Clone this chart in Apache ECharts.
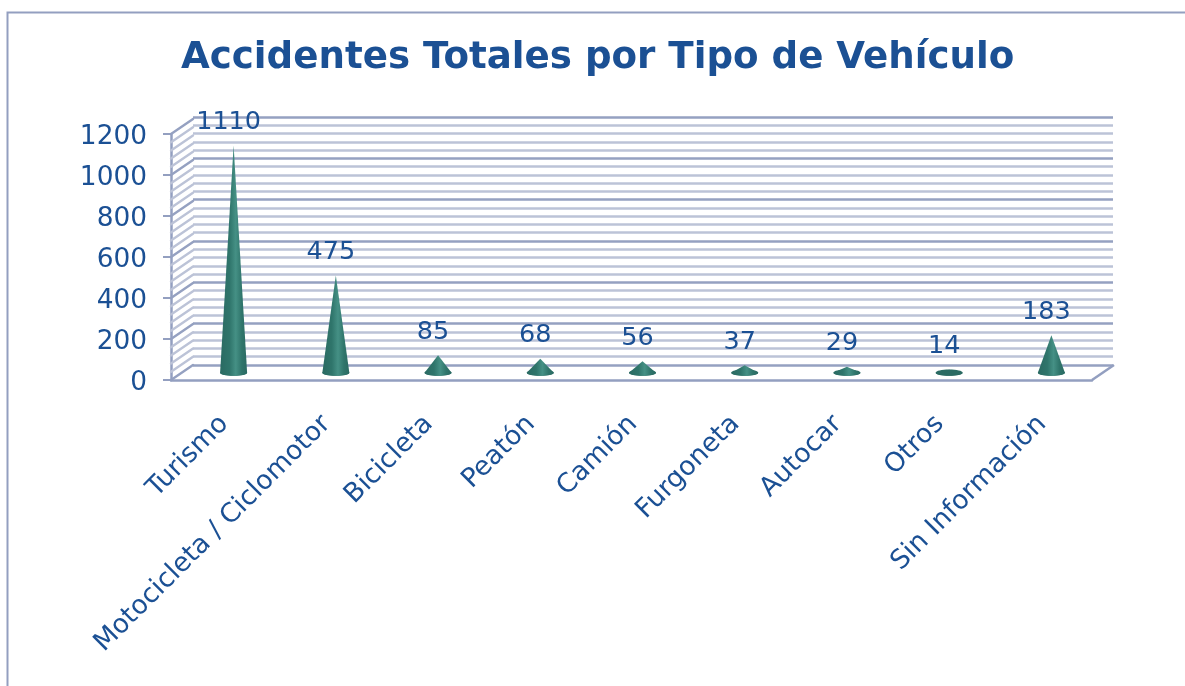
<!DOCTYPE html>
<html><head><meta charset="utf-8">
<style>html,body{margin:0;padding:0;background:#fff}#c{width:1185px;height:686px}</style>
<script src="https://cdn.jsdelivr.net/npm/echarts@6/dist/echarts.min.js"></script>
</head><body><div id="c"></div>
<script>
const categories = ['Turismo','Motocicleta / Ciclomotor','Bicicleta','Peatón','Camión','Furgoneta','Autocar','Otros','Sin Información'];
const accidentes = [1110,475,85,68,56,37,29,14,183];
const wallTicks = [0,40,80,120,160,200,240,280,320,360,400,440,480,520,560,600,640,680,720,760,800,840,880,920,960,1000,1040,1080,1120,1160,1200];
const titleText = 'Accidentes Totales por Tipo de Vehículo';

const BLUE = '#1b5094', MAJOR = '#95a1c1', MINOR = '#bcc3d7', EDGE = '#939fc0';
const FONT = '"DejaVu Sans", Verdana, sans-serif';
const DX = 22, DY = -15;
const W = 1185, H = 686;

const chart = echarts.init(document.getElementById('c'), null, {renderer:'canvas'});
chart.setOption({
  animation:false,
  backgroundColor:'#fff',
  title:{text:titleText,left:176,top:35,itemGap:0,
    textStyle:{fontFamily:FONT,fontWeight:'bold',fontSize:37.2,color:BLUE}},
  graphic:[{type:'rect',silent:true,shape:{x:7.5,y:12.5,width:1400,height:900},
    style:{fill:'none',stroke:EDGE,lineWidth:2}}],
  grid:[
    {left:171,right:W-1092,top:134,bottom:H-380},
    {left:193,right:W-1113,top:117,bottom:H-365},
    {left:182.5,right:W-1102.5,top:127.2,bottom:H-372.7},
    {left:171,right:W-1092,top:137.5,bottom:H-383.5}
  ],
  xAxis:[
    {gridIndex:0,type:'category',data:categories,axisTick:{show:false},axisLabel:{show:false},
      axisLine:{show:true,lineStyle:{color:EDGE,width:2.5}},z:3},
    {gridIndex:1,type:'category',data:categories,axisTick:{show:false},axisLabel:{show:false},axisLine:{show:false}},
    {gridIndex:2,type:'category',data:categories,axisTick:{show:false},axisLine:{show:false},
      axisLabel:{show:true,interval:0,rotate:45,margin:38,padding:[0,13,0,0],fontFamily:FONT,fontSize:26.5,color:BLUE}},
    {gridIndex:3,type:'category',data:categories,show:false}
  ],
  yAxis:[
    {gridIndex:0,type:'value',min:0,max:1200,interval:200,splitLine:{show:false},axisLabel:{show:false},
      axisLine:{show:true,lineStyle:{color:EDGE,width:2.5}},
      axisTick:{show:true,length:8,lineStyle:{color:EDGE,width:2}}},
    {gridIndex:1,type:'value',min:0,max:1200,interval:200,axisLabel:{show:false},axisLine:{show:false},axisTick:{show:false},
      splitLine:{show:true,lineStyle:{color:MAJOR,width:2.5}},
      minorTick:{show:false,splitNumber:5},
      minorSplitLine:{show:true,lineStyle:{color:MINOR,width:2.5}}},
    {gridIndex:2,type:'value',min:0,max:1200,interval:200,show:false},
    {gridIndex:3,type:'value',min:0,max:1200,interval:200,splitLine:{show:false},axisLine:{show:false},axisTick:{show:false},
      axisLabel:{margin:24,fontFamily:FONT,fontSize:26.4,color:BLUE,formatter:v=>String(v)}}
  ],
  series:[
    {type:'custom',name:'pared',xAxisIndex:0,yAxisIndex:0,clip:false,silent:true,z:1,
      data:wallTicks.map(v=>[0,v]),
      renderItem(params,api){
        const v=api.value(1);
        const p=api.coord([0,v]);
        const x=params.coordSys.x, y=p[1];
        return {type:'line',shape:{x1:x,y1:y,x2:x+DX,y2:y+DY},
          style:{stroke:v%200===0?MAJOR:MINOR,lineWidth:2.4,lineCap:'round'}};
      }},
    {type:'custom',name:'suelo',xAxisIndex:0,yAxisIndex:0,clip:false,silent:true,z:1,
      data:[[8,0]],
      renderItem(params,api){
        const y=api.coord([0,api.value(1)])[1];
        const x=params.coordSys.x+params.coordSys.width;
        return {type:'line',shape:{x1:x,y1:y,x2:x+DX,y2:y+DY},style:{stroke:EDGE,lineWidth:2.5}};
      }},
    {type:'custom',name:'Accidentes',xAxisIndex:2,yAxisIndex:2,clip:false,silent:true,z:5,
      data:accidentes.map((v,i)=>[i,v]),
      renderItem(params,api){
        const i=api.value(0),v=api.value(1);
        const b=api.coord([i,0]),t=api.coord([i,v]);
        const r=13.5,ry=3.1,cx=b[0],cy=b[1],h=cy-t[1];
        const d=`M${cx-r} ${cy} L${cx} ${t[1]} L${cx+r} ${cy} C${cx+r} ${cy+ry*1.3} ${cx-r} ${cy+ry*1.3} ${cx-r} ${cy} Z`;
        const light=h<4?'#2b6b63':'#459085', mid=h<4?'#2b6b63':'#2f756b';
        return {type:'group',children:[
          {type:'ellipse',shape:{cx:cx,cy:cy,rx:r,ry:ry},style:{fill:'#2b6b63'}},
          {type:'path',shape:{pathData:d},style:{fill:new echarts.graphic.LinearGradient(0,0,1,0,[
            {offset:0,color:'#2a6a62'},{offset:.35,color:mid},{offset:.58,color:light},{offset:.8,color:mid},{offset:1,color:'#2a6a62'}])}},
          {type:'text',style:{text:String(v),x:cx-5,y:t[1]-23,align:'center',verticalAlign:'middle',
            fontFamily:FONT,fontSize:25.5,fill:BLUE}}
        ]};
      }}
  ]
});
</script></body></html>
